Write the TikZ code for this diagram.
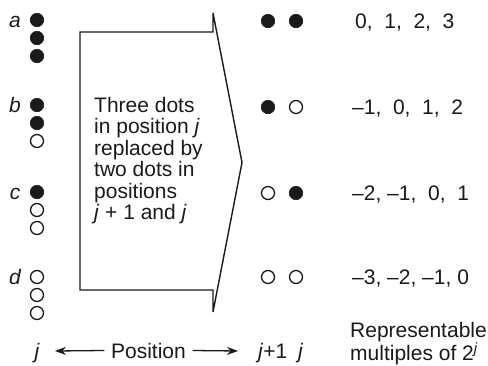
\documentclass[tikz,border=0pt]{standalone}
\usepackage{fontspec}
\setmainfont{Liberation Sans}
\usetikzlibrary{arrows.meta}
\definecolor{ink}{HTML}{1A1A1A}
\begin{document}
\begin{tikzpicture}[x=1pt,y=-1pt,
  txt/.style={font=\fontsize{21}{21.5}\selectfont, inner sep=0pt, text=ink},
  lbl/.style={txt, font=\fontsize{21}{21.5}\selectfont\itshape, anchor=base},
  nums/.style={txt, anchor=base west},
  full/.style={circle, fill=ink, draw=ink, line width=0.6pt, minimum size=13.5pt, inner sep=0pt},
  hollow/.style={circle, draw=ink, line width=1.3pt, minimum size=13pt, inner sep=0pt},
  outline/.style={draw=ink, line width=1.4pt, line join=miter},
  posarrow/.style={draw=ink, line width=1.3pt, -{Stealth[length=11pt,width=8pt]}}]
\useasboundingbox (0,0) rectangle (488,365);

% left column of dots
\node[full]   (a1) at (37,20) {};
\node[full]   (a2) at (37,38) {};
\node[full]   (a3) at (37,56) {};
\node[full]   (b1) at (37,105) {};
\node[full]   (b2) at (37,123) {};
\node[hollow] (b3) at (37,141) {};
\node[full]   (c1) at (37,192) {};
\node[hollow] (c2) at (37,210) {};
\node[hollow] (c3) at (37,228) {};
\node[hollow] (d1) at (37,277) {};
\node[hollow] (d2) at (37,295) {};
\node[hollow] (d3) at (37,313) {};

% row labels
\node[lbl] (la) at (15,27) {a};
\node[lbl] (lb) at (15,112) {b};
\node[lbl] (lc) at (15,199) {c};
\node[lbl] (ld) at (15,284) {d};

% big arrow
\draw[outline] (213,32) -- (80,32) -- (80,290) -- (213,290) -- (213,312)
  -- (242,162.5) -- (213,13) -- cycle;
\node[txt, anchor=north west, align=left] (desc) at (94,97)
  {Three dots\\in position \textit{j}\\replaced by\\two dots in\\positions\\\textit{j} + 1 and \textit{j}};

% right dots
\node[full]   (ra1) at (268,21) {};
\node[full]   (ra2) at (296,21) {};
\node[full]   (rb1) at (268,107) {};
\node[hollow] (rb2) at (296,107) {};
\node[hollow] (rc1) at (268,193) {};
\node[full]   (rc2) at (296,193) {};
\node[hollow] (rd1) at (268,277) {};
\node[hollow] (rd2) at (296,277) {};

% numbers
\node[nums] (na) at (355,28) {0,\ \ 1,\ \ 2,\ \ 3};
\node[nums] (nb) at (352,114) {–1,\ \ 0,\ \ 1,\ \ 2};
\node[nums] (nc) at (352,200) {–2, –1,\ \ 0,\ \ 1};
\node[nums] (nd) at (352,284) {–3, –2, –1, 0};

% bottom row
\node[lbl] (jl) at (37,358) {j};
\node[txt, anchor=base, inner xsep=6.5pt] (pos) at (148.5,358) {Position};
\coordinate (larr) at (55,351);
\coordinate (rarr) at (238,351);
\draw[posarrow] (pos.west) -- (larr);
\draw[posarrow] (pos.east) -- (rarr);
\node[nums] (jp1) at (258,358) {\textit{j}+1};
\node[nums] (jr) at (298,358) {\textit{j}};
\node[txt, anchor=north west, align=left] (rep) at (350,322)
  {Representable\\multiples of 2\textsuperscript{\itshape j}};
\end{tikzpicture}
\end{document}
